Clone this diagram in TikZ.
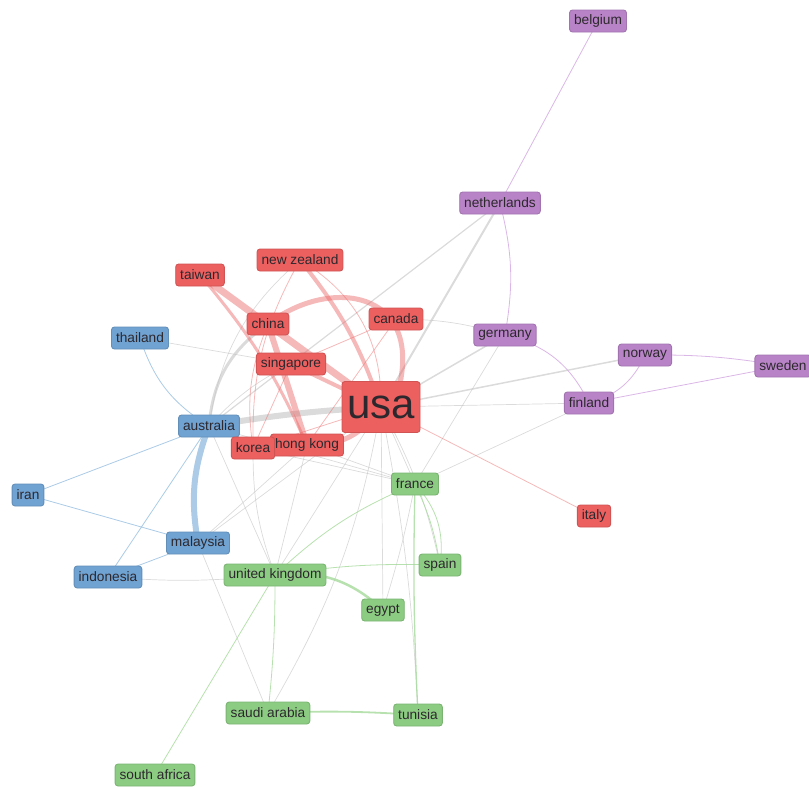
\documentclass[tikz,border=0pt]{standalone}
\usepackage{fontspec}
\setmainfont{Liberation Sans}
\usetikzlibrary{backgrounds}
\definecolor{cred}{RGB}{236,96,96}
\definecolor{cblue}{RGB}{112,162,210}
\definecolor{cgreen}{RGB}{140,204,130}
\definecolor{cpurple}{RGB}{184,132,199}
\definecolor{ered}{RGB}{236,100,100}
\definecolor{egrey}{RGB}{195,195,195}
\definecolor{eblue}{RGB}{150,190,225}
\definecolor{egreen}{RGB}{165,218,155}
\definecolor{epurple}{RGB}{215,175,228}
\definecolor{tx}{RGB}{45,40,45}
\tikzset{
  nd/.style={rounded corners=3pt, minimum height=22pt, inner xsep=4.5pt, inner ysep=0pt,
    font=\fontsize{13.7}{15}\selectfont, text=tx, line width=0.9pt},
  rn/.style={nd, fill=cred, draw=cred!88!black},
  bn/.style={nd, fill=cblue, draw=cblue!88!black},
  gn/.style={nd, fill=cgreen, draw=cgreen!88!black},
  pn/.style={nd, fill=cpurple, draw=cpurple!88!black},
  re/.style={draw=ered, opacity=0.45, line width=#1},
  re/.default=0.8pt,
  ge/.style={draw=egrey, opacity=0.6, line width=#1},
  ge/.default=0.7pt,
  be/.style={draw=eblue, opacity=0.8, line width=#1},
  be/.default=0.8pt,
  ne/.style={draw=egreen, opacity=0.8, line width=#1},
  ne/.default=0.8pt,
  pe/.style={draw=epurple, opacity=0.9, line width=#1},
  pe/.default=0.8pt
}
\begin{document}
\begin{tikzpicture}[x=1pt,y=-1pt]
\useasboundingbox (0,0) rectangle (809,787);
% nodes
\node[pn] (belgium) at (598,21) {belgium};
\node[pn] (netherlands) at (500,203) {netherlands};
\node[rn] (newzealand) at (300,260) {new zealand};
\node[rn] (taiwan) at (200,275) {taiwan};
\node[rn] (canada) at (396,319) {canada};
\node[rn] (china) at (268,324) {china};
\node[pn] (germany) at (505,335) {germany};
\node[bn] (thailand) at (140,338) {thailand};
\node[rn] (singapore) at (291,364) {singapore};
\node[pn] (norway) at (645,355) {norway};
\node[pn] (sweden) at (783,366) {sweden};
\node[rn, minimum width=78pt, minimum height=51pt, font=\fontsize{42}{44}\selectfont] (usa) at (381,407) {usa};
\node[bn] (australia) at (209,426) {australia};
\node[pn] (finland) at (589,403) {finland};
\node[rn] (hongkong) at (307,445) {hong kong};
\node[rn] (korea) at (253,448) {korea};
\node[gn] (france) at (415,484) {france};
\node[bn] (iran) at (28,495) {iran};
\node[rn] (italy) at (594,516) {italy};
\node[bn] (malaysia) at (198,543) {malaysia};
\node[bn] (indonesia) at (108,577) {indonesia};
\node[gn] (uk) at (275,575) {united kingdom};
\node[gn] (spain) at (440,565) {spain};
\node[gn] (egypt) at (383,610) {egypt};
\node[gn] (saudi) at (268,713) {saudi arabia};
\node[gn] (tunisia) at (418,715) {tunisia};
\node[gn] (southafrica) at (155,775) {south africa};
\begin{pgfonlayer}{background}
% grey inter-cluster links
\draw[ge=6pt] (australia.center) to[bend left=3] (usa.center);
\draw[ge=3pt] (australia.center) to[bend left=25] (china.center);
\draw[ge] (australia.center) to[bend left=20] (newzealand.center);
\draw[ge] (australia.center) to[bend left=10] (singapore.center);
\draw[ge] (thailand.center) -- (singapore.center);
\draw[ge=2pt] (usa.center) -- (netherlands.center);
\draw[ge=1.2pt] (australia.center) -- (netherlands.center);
\draw[ge] (canada.center) to[bend left=8] (germany.center);
\draw[ge=1.5pt] (usa.center) -- (germany.center);
\draw[ge=1.5pt] (usa.center) -- (norway.center);
\draw[ge] (usa.center) -- (finland.center);
\draw[ge] (germany.center) -- (france.center);
\draw[ge] (finland.center) -- (france.center);
\draw[ge] (usa.center) -- (france.center);
\draw[ge] (usa.center) to[bend left=8] (spain.center);
\draw[ge] (usa.center) to[bend left=4] (tunisia.center);
\draw[ge] (usa.center) -- (egypt.center);
\draw[ge] (usa.center) -- (uk.center);
\draw[ge] (usa.center) -- (malaysia.center);
\draw[ge] (australia.center) -- (france.center);
\draw[ge] (hongkong.center) -- (france.center);
\draw[ge] (korea.center) -- (france.center);
\draw[ge] (australia.center) -- (uk.center);
\draw[ge] (hongkong.center) -- (uk.center);
\draw[ge] (korea.center) to[bend right=10] (uk.center);
\draw[ge] (hongkong.center) -- (malaysia.center);
\draw[ge] (malaysia.center) -- (saudi.center);
\draw[ge] (indonesia.center) to[bend right=5] (uk.center);
\draw[ge] (usa.center) to[bend left=10] (saudi.center);
\draw[ge] (france.center) to[bend left=3] (egypt.center);
% blue
\draw[be=6pt] (australia.center) to[bend right=15] (malaysia.center);
\draw[be] (australia.center) -- (iran.center);
\draw[be] (iran.center) -- (malaysia.center);
\draw[be] (australia.center) -- (indonesia.center);
\draw[be] (malaysia.center) -- (indonesia.center);
\draw[be] (thailand.center) to[bend right=20] (australia.center);
% green
\draw[ne=2.5pt] (uk.center) to[bend left=25] (egypt.center);
\draw[ne] (uk.center) to[bend left=5] (spain.center);
\draw[ne] (uk.center) to[bend left=10] (france.center);
\draw[ne] (uk.center) -- (southafrica.center);
\draw[ne] (uk.center) to[bend left=3] (saudi.center);
\draw[ne=1.8pt] (saudi.center) to[bend left=3] (tunisia.center);
\draw[ne=1.3pt] (france.center) to[bend right=2] (tunisia.center);
\draw[ne] (france.center) to[bend left=25] (spain.center);
\draw[ne] (france.center) to[bend left=8] (spain.center);
% purple
\draw[pe] (belgium.center) -- (netherlands.center);
\draw[pe] (netherlands.center) to[bend left=12] (germany.center);
\draw[pe] (germany.center) to[bend left=25] (finland.center);
\draw[pe] (norway.center) to[bend left=25] (finland.center);
\draw[pe] (norway.center) to[bend left=5] (sweden.center);
\draw[pe] (finland.center) -- (sweden.center);
% red
\draw[re=7pt] (taiwan.center) -- (usa.center);
\draw[re=6pt] (china.center) -- (hongkong.center);
\draw[re=3pt] (taiwan.center) to[bend left=8] (hongkong.center);
\draw[re=5pt] (china.center) .. controls (330,276) and (425,290) .. (398,392);
\draw[re=4pt] (newzealand.center) to[bend left=10] (usa.center);
\draw[re] (newzealand.center) to[bend right=15] (korea.center);
\draw[re] (newzealand.center) to[bend left=30] (usa.center);
\draw[re] (canada.center) -- (singapore.center);
\draw[re] (canada.center) -- (hongkong.center);
\draw[re=4pt] (singapore.center) -- (usa.center);
\draw[re] (singapore.center) -- (korea.center);
\draw[re] (china.center) to[bend right=15] (korea.center);
\draw[re=5pt] (hongkong.center) to[bend right=30] (usa.center);
\draw[re] (korea.center) -- (usa.center);
\draw[re] (usa.center) -- (italy.center);
\end{pgfonlayer}
\end{tikzpicture}
\end{document}
